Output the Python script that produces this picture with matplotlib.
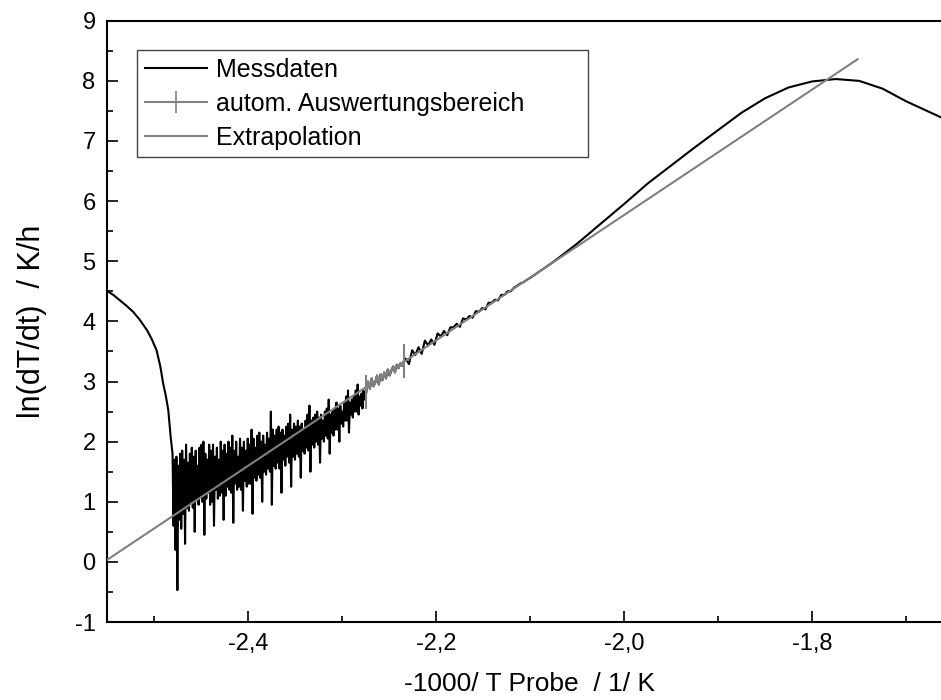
import numpy as np
import matplotlib.pyplot as plt
from matplotlib.lines import Line2D
from matplotlib.ticker import MultipleLocator

plt.rcParams['font.family'] = ['Liberation Sans', 'DejaVu Sans']

start_x = [-2.550, -2.543, -2.536, -2.529, -2.522, -2.515, -2.507, -2.502,
           -2.497, -2.493, -2.490, -2.487, -2.4845, -2.482]
start_y = [4.51, 4.44, 4.35, 4.26, 4.16, 4.03, 3.85, 3.70,
           3.52, 3.25, 2.97, 2.75, 2.52, 2.08]

noise_x_range = (-2.480, -2.276)
noise_y = [
    1.80, 0.60, 1.70, 0.20, 1.75, -0.47, 1.60, 0.70, 1.80, 0.55,
    1.85, 0.80, 1.70, 0.30, 1.95, 0.90, 1.65, 0.85, 1.80, 1.00,
    1.90, 0.90, 1.75, 0.50, 1.85, 1.05, 1.60, 0.95, 1.90, 1.10,
    1.95, 1.00, 2.00, 0.45, 1.80, 1.05, 1.70, 1.15, 1.95, 0.95,
    1.85, 1.00, 1.95, 0.60, 1.75, 1.20, 1.90, 1.05, 1.70, 1.10,
    2.00, 1.15, 1.85, 0.70, 1.95, 1.10, 1.80, 1.25, 2.00, 1.20,
    1.90, 1.15, 2.10, 0.65, 1.85, 1.30, 2.00, 1.20, 1.75, 1.25,
    2.05, 1.20, 1.90, 0.85, 2.00, 1.35, 1.85, 1.25, 2.05, 1.30,
    1.95, 1.30, 2.20, 0.80, 2.05, 1.40, 1.90, 1.35, 2.10, 1.45,
    2.15, 1.40, 2.00, 1.00, 2.10, 1.50, 1.95, 1.45, 2.15, 1.55,
    2.05, 1.50, 2.50, 0.95, 2.20, 1.60, 2.10, 1.55, 2.20, 1.65,
    2.25, 1.55, 2.15, 1.15, 2.20, 1.70, 2.10, 1.60, 2.25, 1.75,
    2.30, 1.65, 2.45, 1.25, 2.20, 1.75, 2.30, 1.70, 2.25, 1.80,
    2.35, 1.75, 2.25, 1.40, 2.30, 1.85, 2.20, 1.80, 2.35, 1.90,
    2.45, 1.85, 2.60, 1.50, 2.35, 1.95, 2.40, 1.90, 2.45, 2.00,
    2.50, 1.95, 2.40, 1.65, 2.45, 2.05, 2.35, 2.00, 2.50, 2.10,
    2.55, 2.05, 2.70, 1.80, 2.45, 2.15, 2.50, 2.10, 2.55, 2.20,
    2.65, 2.20, 2.55, 2.00, 2.60, 2.30, 2.50, 2.25, 2.65, 2.35,
    2.75, 2.35, 2.85, 2.15, 2.65, 2.45, 2.70, 2.40, 2.75, 2.50,
    2.85, 2.50, 2.95, 2.45, 2.75, 2.60, 2.80, 2.55, 2.85, 2.70,
]

# automatic evaluation range (grey)
ausw_x_range = (-2.274, -2.234)
ausw_y = [2.82, 3.00, 2.88, 3.05, 2.92, 2.98, 3.10, 2.95, 3.12, 3.02, 3.15,
          3.05, 3.20, 3.10, 3.18, 3.25, 3.15, 3.28, 3.22, 3.30, 3.26, 3.34]

tail_x_range = (-2.232, -2.100)
tail_y = [3.38, 3.29, 3.52, 3.44, 3.57, 3.46, 3.68, 3.60, 3.70, 3.61,
          3.80, 3.75, 3.84, 3.77, 3.90, 3.90, 3.96, 3.91, 4.05, 4.03,
          4.09, 4.06, 4.17, 4.16, 4.22, 4.20, 4.31, 4.31, 4.36, 4.35,
          4.44, 4.44, 4.50, 4.50, 4.56, 4.59, 4.63, 4.65, 4.69, 4.72]

end_x = [-2.075, -2.05, -2.025, -2.00, -1.975, -1.95, -1.925, -1.90, -1.875,
         -1.85, -1.825, -1.80, -1.775, -1.75, -1.725, -1.70, -1.675, -1.65]
end_y = [4.99, 5.29, 5.62, 5.95, 6.29, 6.59, 6.89, 7.18, 7.47,
         7.71, 7.89, 7.99, 8.03, 8.00, 7.87, 7.66, 7.48, 7.30]

extrap_x = [-2.55, -1.7515]
extrap_y = [0.03, 8.36]

xticks = [-2.4, -2.2, -2.0, -1.8]
xticklabels = ['-2,4', '-2,2', '-2,0', '-1,8']
yticks = list(range(-1, 10))

noise_x = np.linspace(*noise_x_range, len(noise_y))
ausw_x = np.linspace(*ausw_x_range, len(ausw_y))
tail_x = np.linspace(*tail_x_range, len(tail_y))

mess_x = np.concatenate([start_x, noise_x, ausw_x, tail_x, end_x])
mess_y = np.concatenate([start_y, noise_y, ausw_y, tail_y, end_y])

grey = '#808080'

fig = plt.figure(figsize=(9.41, 7.0), dpi=100)
ax = fig.add_axes([0.1134, 0.1114, 0.8995, 0.859])

ax.plot(mess_x, mess_y, color='black', lw=1.5, zorder=2)
ax.plot(ausw_x, ausw_y, color=grey, lw=1.5, zorder=3)
ax.plot(ausw_x[[0, -1]], np.array(ausw_y)[[0, -1]], ls='none', marker='|',
        ms=25, mew=1.5, color=grey, zorder=3)
ax.plot(extrap_x, extrap_y, color=grey, lw=1.5, zorder=4)

ax.set_xlim(-2.55, -1.65)
ax.set_ylim(-1, 9)
ax.set_xticks(xticks)
ax.set_xticklabels(xticklabels)
ax.set_yticks(yticks)
ax.set_yticklabels([str(v) for v in yticks])
ax.xaxis.set_minor_locator(MultipleLocator(0.1))
ax.yaxis.set_minor_locator(MultipleLocator(0.5))
ax.tick_params(which='both', direction='in', width=1.2, labelsize=17, pad=8,
               top=False, right=False)
ax.tick_params(which='major', length=8)
ax.tick_params(which='minor', length=4.3)
for s in ax.spines.values():
    s.set_linewidth(1.5)

ax.set_xlabel('-1000/ T Probe  / 1/ K', fontsize=19, labelpad=12)
ax.set_ylabel('ln(dT/dt)  / K/h', fontsize=22, labelpad=20)

handles = [
    Line2D([], [], color='black', lw=1.5),
    Line2D([], [], color=grey, lw=1.5, marker='|', ms=16, mew=1.2),
    Line2D([], [], color=grey, lw=1.5),
]
labels = ['Messdaten', 'autom. Auswertungsbereich', 'Extrapolation']
leg = ax.legend(handles, labels, loc='upper left', mode='expand',
                bbox_to_anchor=(0.0358, 0.751, 0.533, 0.2), borderaxespad=0,
                fontsize=18, handlelength=2.5, handletextpad=0.35,
                labelspacing=0.4, borderpad=0.3, fancybox=False,
                framealpha=1, edgecolor='#444444', numpoints=1)
leg.get_frame().set_linewidth(1.0)

fig.savefig('out.png', dpi=100)
